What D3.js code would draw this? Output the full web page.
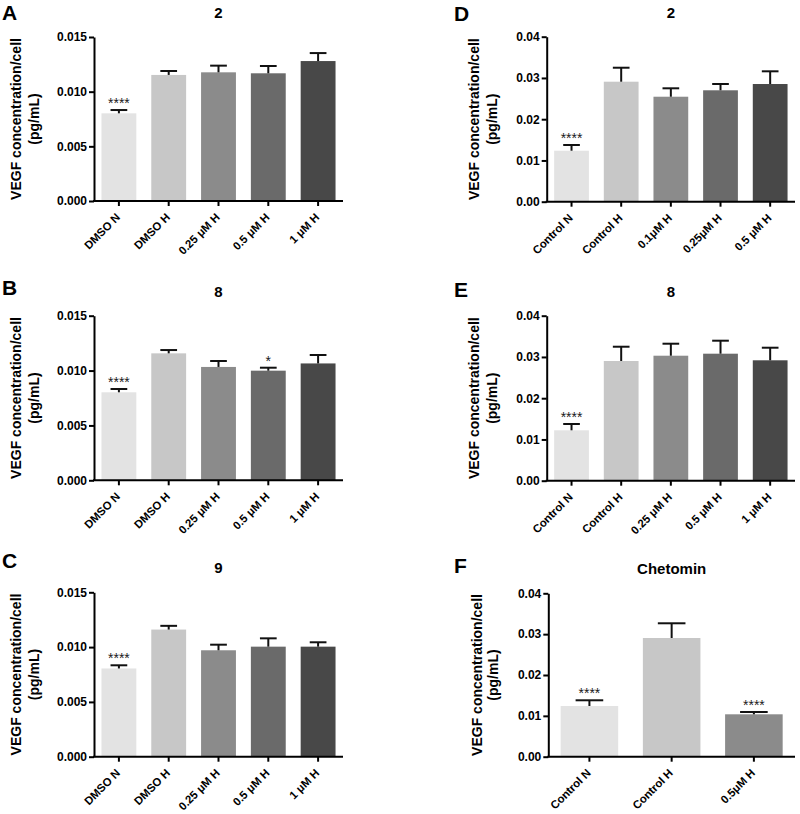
<!DOCTYPE html>
<html>
<head>
<meta charset="utf-8">
<script src="https://cdn.jsdelivr.net/npm/d3@7/dist/d3.min.js"></script>
<style>
  html, body { margin: 0; padding: 0; background: #fff; }
  svg { display: block; font-family: "Liberation Sans", Arial, Helvetica, sans-serif; }
</style>
</head>
<body>
<svg id="chart" width="800" height="814"></svg>
<script>
// ---------------- DATA ----------------
const panelLetters = ["A", "B", "C", "D", "E", "F"];
const panelTitles = ["2", "8", "9", "2", "8", "Chetomin"];

const catsDMSO = ["DMSO N", "DMSO H", "0.25 \u03bcM H", "0.5 \u03bcM H", "1 \u03bcM H"];
const catsD = ["Control N", "Control H", "0.1\u03bcM H", "0.25\u03bcM H", "0.5 \u03bcM H"];
const catsE = ["Control N", "Control H", "0.25 \u03bcM H", "0.5 \u03bcM H", "1 \u03bcM H"];
const catsF = ["Control N", "Control H", "0.5\u03bcM H"];

const valuesA = [0.00802, 0.01153, 0.01177, 0.01168, 0.01280];
const errorsA = [0.00030, 0.00036, 0.00061, 0.00067, 0.00073];
const valuesB = [0.00802, 0.01157, 0.01033, 0.00999, 0.01065];
const errorsB = [0.00030, 0.00030, 0.00054, 0.00027, 0.00077];
const valuesC = [0.00805, 0.01160, 0.00971, 0.01004, 0.01004];
const errorsC = [0.00029, 0.00034, 0.00051, 0.00076, 0.00040];
const valuesD = [0.01236, 0.02909, 0.02545, 0.02701, 0.02853];
const errorsD = [0.00139, 0.00339, 0.00204, 0.00152, 0.00308];
const valuesE = [0.01222, 0.02902, 0.03030, 0.03079, 0.02919];
const errorsE = [0.00153, 0.00346, 0.00291, 0.00315, 0.00305];
const valuesF = [0.01241, 0.02906, 0.01038];
const errorsF = [0.00140, 0.00360, 0.00056];

const sigA = ["****", "", "", "", ""];
const sigB = ["****", "", "", "*", ""];
const sigC = ["****", "", "", "", ""];
const sigD = ["****", "", "", "", ""];
const sigE = ["****", "", "", "", ""];
const sigF = ["****", "", "****"];

const ticksSmall = [0, 0.005, 0.010, 0.015];
const ticksLarge = [0, 0.01, 0.02, 0.03, 0.04];

const yAxisTitle = ["VEGF concentration/cell", "(pg/mL)"];

// ---------------- STYLE / LAYOUT ----------------
const barColors = ["#e3e3e3", "#c7c7c7", "#8b8b8b", "#6a6a6a", "#484848"];
// plot boxes [x0, x1, yTop, yBottom]
const boxes = [
  [94, 343, 37, 201],
  [94, 343, 315.7, 480.3],
  [94, 343, 592.3, 756.7],
  [546.7, 795, 36.7, 201.7],
  [546.7, 795, 315.7, 480.7],
  [548.3, 795, 593.3, 756.7]
];
const letterPos = [[2, 20], [2, 295], [2, 568], [454, 21], [454, 297], [454, 573]];
const ytitleOffsets = [[-73, -55], [-73, -55], [-73, -55], [-68, -50], [-68, -50], [-66, -50]];

const panels = [
  { cats: catsDMSO, vals: valuesA, errs: errorsA, sig: sigA, ticks: ticksSmall, fmt: ".3f" },
  { cats: catsDMSO, vals: valuesB, errs: errorsB, sig: sigB, ticks: ticksSmall, fmt: ".3f" },
  { cats: catsDMSO, vals: valuesC, errs: errorsC, sig: sigC, ticks: ticksSmall, fmt: ".3f" },
  { cats: catsD, vals: valuesD, errs: errorsD, sig: sigD, ticks: ticksLarge, fmt: ".2f" },
  { cats: catsE, vals: valuesE, errs: errorsE, sig: sigE, ticks: ticksLarge, fmt: ".2f" },
  { cats: catsF, vals: valuesF, errs: errorsF, sig: sigF, ticks: ticksLarge, fmt: ".2f" }
];

const svg = d3.select("#chart");
const FONT = "'Liberation Sans', Arial, sans-serif";

panels.forEach((p, i) => {
  const [x0, x1, yT, yB] = boxes[i];
  const g = svg.append("g");
  const x = d3.scaleBand().domain(p.cats).range([x0, x1]).paddingInner(0.3).paddingOuter(0.15);
  const y = d3.scaleLinear().domain([0, d3.max(p.ticks)]).range([yB, yT]);

  // bars
  g.selectAll("rect.bar").data(p.cats).join("rect")
    .attr("class", "bar")
    .attr("x", d => x(d))
    .attr("width", x.bandwidth())
    .attr("y", (d, j) => y(p.vals[j]))
    .attr("height", (d, j) => y(0) - y(p.vals[j]))
    .attr("fill", (d, j) => barColors[j]);

  // error bars (upper only) and significance marks
  const capHalf = x.bandwidth() * 0.24;
  p.cats.forEach((c, j) => {
    const cx = x(c) + x.bandwidth() / 2;
    const top = y(p.vals[j] + p.errs[j]);
    g.append("line").attr("x1", cx).attr("x2", cx)
      .attr("y1", y(p.vals[j])).attr("y2", top)
      .attr("stroke", "#111").attr("stroke-width", 2);
    g.append("line").attr("x1", cx - capHalf).attr("x2", cx + capHalf)
      .attr("y1", top).attr("y2", top)
      .attr("stroke", "#111").attr("stroke-width", 2);
    if (p.sig[j]) {
      g.append("text").attr("x", cx).attr("y", top - 2)
        .attr("text-anchor", "middle")
        .attr("font-size", 14).attr("fill", "#1a1a1a")
        .text(p.sig[j]);
    }
  });

  // y axis
  const yAxis = g.append("g").attr("transform", `translate(${x0},0)`)
    .call(d3.axisLeft(y).tickValues(p.ticks).tickFormat(d3.format(p.fmt)).tickSize(5).tickSizeOuter(0).tickPadding(2));
  yAxis.select(".domain").attr("stroke", "#000").attr("stroke-width", 2);
  yAxis.selectAll(".tick line").attr("stroke", "#000").attr("stroke-width", 2);
  yAxis.selectAll(".tick text").attr("font-size", 12).attr("font-weight", "bold")
    .attr("fill", "#000").attr("font-family", FONT);

  // x axis
  const xAxis = g.append("g").attr("transform", `translate(0,${yB})`)
    .call(d3.axisBottom(x).tickSize(5).tickSizeOuter(0).tickPadding(2));
  xAxis.select(".domain").attr("stroke", "#000").attr("stroke-width", 2)
    .attr("d", `M${x0 - 1},0H${x1}`);
  xAxis.selectAll(".tick line").attr("stroke", "#000").attr("stroke-width", 2);
  xAxis.selectAll(".tick text")
    .attr("font-size", 11.3).attr("font-weight", "bold").attr("fill", "#000")
    .attr("font-family", FONT)
    .attr("text-anchor", "end")
    .attr("dy", 0)
    .attr("y", 0)
    .attr("transform", "translate(2,17) rotate(-45)");

  // title
  svg.append("text").attr("x", (x0 + x1) / 2).attr("y", yT - 19)
    .attr("text-anchor", "middle").attr("font-weight", "bold").attr("font-size", 15)
    .text(panelTitles[i]);

  // panel letter
  svg.append("text").attr("x", letterPos[i][0]).attr("y", letterPos[i][1])
    .attr("font-weight", "bold").attr("font-size", 21)
    .text(panelLetters[i]);

  // y axis title (two lines)
  const cy = (yT + yB) / 2;
  yAxisTitle.forEach((t, k) => {
    svg.append("text")
      .attr("transform", `translate(${x0 + ytitleOffsets[i][k]},${cy}) rotate(-90)`)
      .attr("text-anchor", "middle").attr("font-weight", "bold").attr("font-size", 14)
      .text(t);
  });
});
</script>
</body>
</html>
